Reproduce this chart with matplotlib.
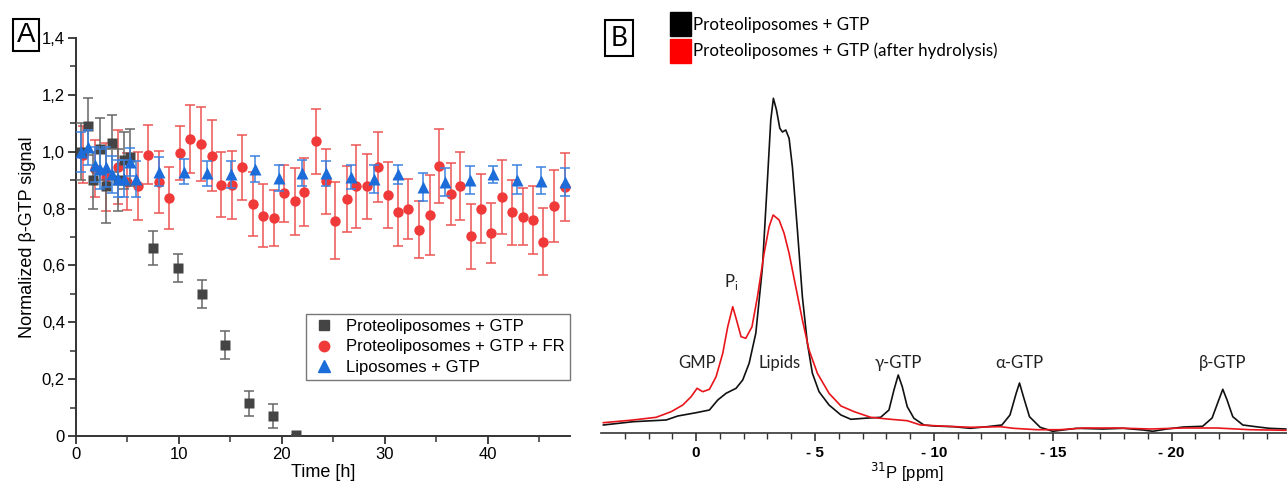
import matplotlib
matplotlib.use('Agg')
import matplotlib.pyplot as plt
from matplotlib.lines import Line2D
from matplotlib.patches import Patch

plt.rcParams['font.family'] = ['Liberation Sans', 'DejaVu Sans']

# Panel A: normalized beta-GTP signal vs time
black_t = [0.5, 1.2, 1.7, 2.3, 2.9, 3.5, 4.1, 4.7, 5.2, 7.5, 9.9, 12.2, 14.5, 16.8, 19.1, 21.4]
black_v = [1.00, 1.09, 0.90, 1.01, 0.88, 1.03, 0.90, 0.97, 0.98, 0.66, 0.59, 0.50, 0.32, 0.115, 0.07, 0.005]
black_e = [0.10, 0.10, 0.10, 0.11, 0.13, 0.10, 0.11, 0.10, 0.10, 0.06, 0.05, 0.05, 0.05, 0.045, 0.042, 0.0]

red_t = [0.7, 1.85, 2.9, 4.1, 5.0, 6.05, 7.0, 8.1, 9.06, 10.1, 11.1, 12.1, 13.2, 14.1, 15.2,
         16.15, 17.15, 18.2, 19.2, 20.2, 21.3, 22.2, 23.3, 24.3, 25.2, 26.3, 27.25, 28.3, 29.35,
         30.3, 31.3, 32.3, 33.3, 34.4, 35.3, 36.4, 37.35, 38.35, 39.4, 40.35, 41.4, 42.4, 43.4,
         44.4, 45.4, 46.4, 47.5]
red_v = [0.99, 0.94, 0.91, 0.945, 0.895, 0.88, 0.99, 0.893, 0.837, 0.994, 1.045, 1.027, 0.986,
         0.884, 0.884, 0.945, 0.817, 0.775, 0.767, 0.854, 0.826, 0.857, 1.036, 0.896, 0.758,
         0.834, 0.878, 0.878, 0.947, 0.848, 0.787, 0.799, 0.725, 0.778, 0.951, 0.851, 0.88,
         0.702, 0.80, 0.713, 0.84, 0.787, 0.772, 0.761, 0.684, 0.81, 0.875]
red_e = [0.1, 0.1, 0.12, 0.13, 0.1, 0.12, 0.105, 0.11, 0.11, 0.095, 0.12, 0.13, 0.125, 0.115,
         0.12, 0.115, 0.113, 0.11, 0.1, 0.1, 0.118, 0.12, 0.115, 0.115, 0.135, 0.117, 0.147,
         0.115, 0.124, 0.117, 0.117, 0.105, 0.1, 0.14, 0.13, 0.11, 0.12, 0.113, 0.12, 0.106,
         0.13, 0.114, 0.1, 0.12, 0.117, 0.127, 0.12]

blue_t = [0.5, 1.2, 1.8, 2.3, 2.9, 3.5, 4.1, 4.7, 5.2, 5.8, 8.1, 10.5, 12.75, 15.1, 17.4, 19.7,
          22.0, 24.3, 26.7, 29.0, 31.3, 33.7, 35.9, 38.25, 40.5, 42.85, 45.2, 47.5]
blue_v = [1.00, 1.015, 0.955, 0.94, 0.945, 0.92, 0.905, 0.905, 0.963, 0.904, 0.93, 0.93, 0.924,
          0.92, 0.94, 0.907, 0.925, 0.924, 0.91, 0.904, 0.92, 0.875, 0.893, 0.90, 0.92, 0.902,
          0.898, 0.893]
blue_e = [0.07, 0.06, 0.06, 0.07, 0.07, 0.065, 0.065, 0.065, 0.05, 0.065, 0.05, 0.045, 0.045,
          0.048, 0.045, 0.045, 0.045, 0.045, 0.042, 0.05, 0.035, 0.05, 0.05, 0.048, 0.03, 0.05,
          0.048, 0.05]

labels_a = ['Proteoliposomes + GTP', 'Proteoliposomes + GTP + FR', 'Liposomes + GTP']
yticks_a = [0, 0.2, 0.4, 0.6, 0.8, 1.0, 1.2, 1.4]
ytick_labels_a = ['0', '0,2', '0,4', '0,6', '0,8', '1,0', '1,2', '1,4']

# Panel B: 31P NMR spectra
blk_ppm = [3.9, 2.65, 1.26, 0.77, 0.0, -0.56, -0.91, -1.26, -1.68, -1.96, -2.23, -2.51, -2.79,
           -3.0, -3.14, -3.25, -3.38, -3.52, -3.63, -3.77, -3.91, -4.05, -4.26, -4.47, -4.68,
           -4.89, -5.17, -5.59, -6.09, -6.51, -7.06, -7.76, -8.11, -8.32, -8.5, -8.67, -8.88,
           -9.16, -9.58, -10.0, -10.83, -11.53, -12.23, -12.86, -13.2, -13.46, -13.6, -13.77,
           -14.02, -14.47, -15.0, -16.0, -17.1, -17.96, -18.8, -19.2, -19.8, -20.5, -21.3,
           -21.7, -21.98, -22.15, -22.33, -22.57, -22.99, -23.54, -24.1, -24.8]
blk_int = [8, 11.3, 13, 17, 20.3, 23, 33, 39.7, 44.7, 53, 69.7, 99.7, 166, 253, 313, 334.7,
           323, 304.7, 301, 303, 294.7, 266, 203, 136, 89.7, 59.7, 41.3, 28, 18, 13.7, 14.7,
           15.7, 23, 43, 58, 46.3, 26.3, 14.7, 8, 7, 6.3, 4.7, 6.3, 8, 18, 39.7, 50, 36, 16.3,
           5.7, 1.7, 4.7, 4, 4.7, 3, 1.7, 4, 6, 6.7, 15, 33, 43.7, 33, 16.3, 8, 6.3, 4.7, 4]

red_ppm = [3.9, 2.65, 1.68, 1.05, 0.56, 0.21, -0.04, -0.28, -0.56, -0.84, -1.12, -1.33, -1.54,
           -1.7, -1.89, -2.09, -2.35, -2.58, -2.86, -3.07, -3.24, -3.49, -3.7, -3.91, -4.19,
           -4.47, -4.75, -5.1, -5.59, -6.09, -6.65, -7.34, -8.04, -8.88, -9.44, -10.3, -11.53,
           -12.8, -13.35, -14.33, -15.3, -16.3, -17.7, -19.1, -20.5, -21.9, -23.3, -24.8]
red_int = [10.3, 13, 15.7, 21.3, 28, 36.3, 44.7, 41.3, 43.7, 56.3, 79.7, 106.3, 126.3, 113,
           96.3, 94.7, 106.3, 136.3, 179.7, 206.3, 218, 213, 199.7, 179.7, 146.3, 113, 83, 59.7,
           39.7, 27, 21.3, 15.7, 14, 12.3, 8, 7, 5.7, 6.3, 4.7, 3.3, 3.3, 5, 5, 4, 5, 5, 3.3, 2.7]

peak_names = ['GMP', 'Lipids', 'γ-GTP', 'α-GTP', 'β-GTP']
peak_ppm = [-0.05, -3.49, -8.5, -13.59, -22.14]
labels_b = ['Proteoliposomes + GTP', 'Proteoliposomes + GTP (after hydrolysis)']

W, H = 1287, 486
fig = plt.figure(figsize=(W / 100, H / 100), dpi=100)

# ---------- panel A ----------
axA = fig.add_axes([76 / W, 1 - 436 / H, (570 - 76) / W, (436 - 38) / H])
axA.errorbar(red_t, red_v, yerr=red_e, fmt='o', color='#f03a3a', ms=7.5, mec='none',
             ecolor='#ee5555', elinewidth=1.1, capsize=3.5, capthick=1.1, zorder=2)
axA.errorbar(black_t, black_v, yerr=black_e, fmt='s', color='#444444', ms=6.5, mec='none',
             ecolor='#666666', elinewidth=1.1, capsize=3.5, capthick=1.1, zorder=3)
axA.errorbar(blue_t, blue_v, yerr=blue_e, fmt='^', color='#1c6cd9', ms=8, mec='none',
             ecolor='#3b82e0', elinewidth=1.1, capsize=3.5, capthick=1.1, zorder=4)

axA.set_xlim(0, 48)
axA.set_ylim(0, 1.4)
axA.set_xticks([0, 10, 20, 30, 40])
axA.set_xticks([5, 15, 25, 35, 45], minor=True)
axA.set_yticks(yticks_a)
axA.set_yticklabels(ytick_labels_a)
axA.set_yticks([0.1, 0.3, 0.5, 0.7, 0.9, 1.1, 1.3], minor=True)
for s in ['top', 'right']:
    axA.spines[s].set_visible(False)
for s in ['left', 'bottom']:
    axA.spines[s].set_color('#333333')
    axA.spines[s].set_linewidth(1.4)
axA.tick_params(which='major', length=6, width=1.3, color='#333333', labelsize=12, pad=2)
axA.tick_params(which='minor', length=4, width=1.1, color='#333333')
axA.set_xlabel('Time [h]', fontsize=13, labelpad=1)
axA.set_ylabel('Normalized β-GTP signal', fontsize=13, labelpad=4)
axA.patch.set_alpha(0)

handles = [Line2D([], [], ls='none', marker='s', color='#444444', ms=7),
           Line2D([], [], ls='none', marker='o', color='#f03a3a', ms=7.5),
           Line2D([], [], ls='none', marker='^', color='#1c6cd9', ms=8)]
leg = axA.legend(handles, labels_a, loc='lower right', bbox_to_anchor=(1.0, 0.14),
                 fontsize=12, frameon=True, fancybox=False, edgecolor='#555555',
                 handlelength=1.5, handletextpad=0.6, labelspacing=0.35, borderpad=0.3,
                 borderaxespad=0)
leg.get_frame().set_linewidth(1.0)

fig.text(26 / W, 1 - 35 / H, 'A', fontsize=20, ha='center', va='center',
         bbox=dict(boxstyle='square,pad=0.12', fc='white', ec='black', lw=1.5))

# ---------- panel B ----------
axB = fig.add_axes([601 / W, 1 - 433 / H, (W - 601) / W, (433 - 60) / H])
axB.plot(blk_ppm, blk_int, color='#111111', lw=1.2, zorder=2)
axB.plot(red_ppm, red_int, color='#e8151b', lw=1.2, zorder=3)
axB.set_xlim(4, -24.85)
axB.set_ylim(0, 373)
axB.set_yticks([])
axB.set_xticks([0, -5, -10, -15, -20])
axB.set_xticklabels(['0', '- 5', '- 10', '- 15', '- 20'], fontweight='bold')
axB.set_xticks([v for v in range(3, -25, -1) if v % 5 != 0], minor=True)
for s in ['top', 'right', 'left']:
    axB.spines[s].set_visible(False)
axB.spines['bottom'].set_color('#333333')
axB.spines['bottom'].set_linewidth(1.2)
axB.tick_params(which='major', length=6, width=1.2, color='#333333', labelsize=11, pad=3)
axB.tick_params(which='minor', length=4, width=1.0, color='#333333')
axB.set_xlabel('$^{31}$P [ppm]', fontsize=12)
axB.xaxis.set_label_coords(0.445, -0.075)
axB.patch.set_alpha(0)

for name, pos in zip(peak_names, peak_ppm):
    axB.text(pos, 70, name, ha='center', va='center', fontsize=12, family='Lato', color='#222222')
axB.text(-1.47, 151, 'P$_{\\mathregular{i}}$', ha='center', va='center', fontsize=12,
         family='Lato', color='#222222')

fig.text(619 / W, 1 - 38 / H, 'B', fontsize=19, family='Lato', ha='center', va='center',
         bbox=dict(boxstyle='square,pad=0.2', fc='white', ec='black', lw=1.5))

leg_b = [Patch(color='black'), Patch(color='#ff0000')]
fig.legend(leg_b, labels_b, loc='upper left', bbox_to_anchor=(662 / W, 1 - 4 / H),
           frameon=False, prop={'family': 'Lato', 'size': 12.2}, handlelength=1.2,
           handleheight=1.8, handletextpad=0.1, labelspacing=0.15, borderpad=0.0)

fig.savefig('out.png', dpi=100)
